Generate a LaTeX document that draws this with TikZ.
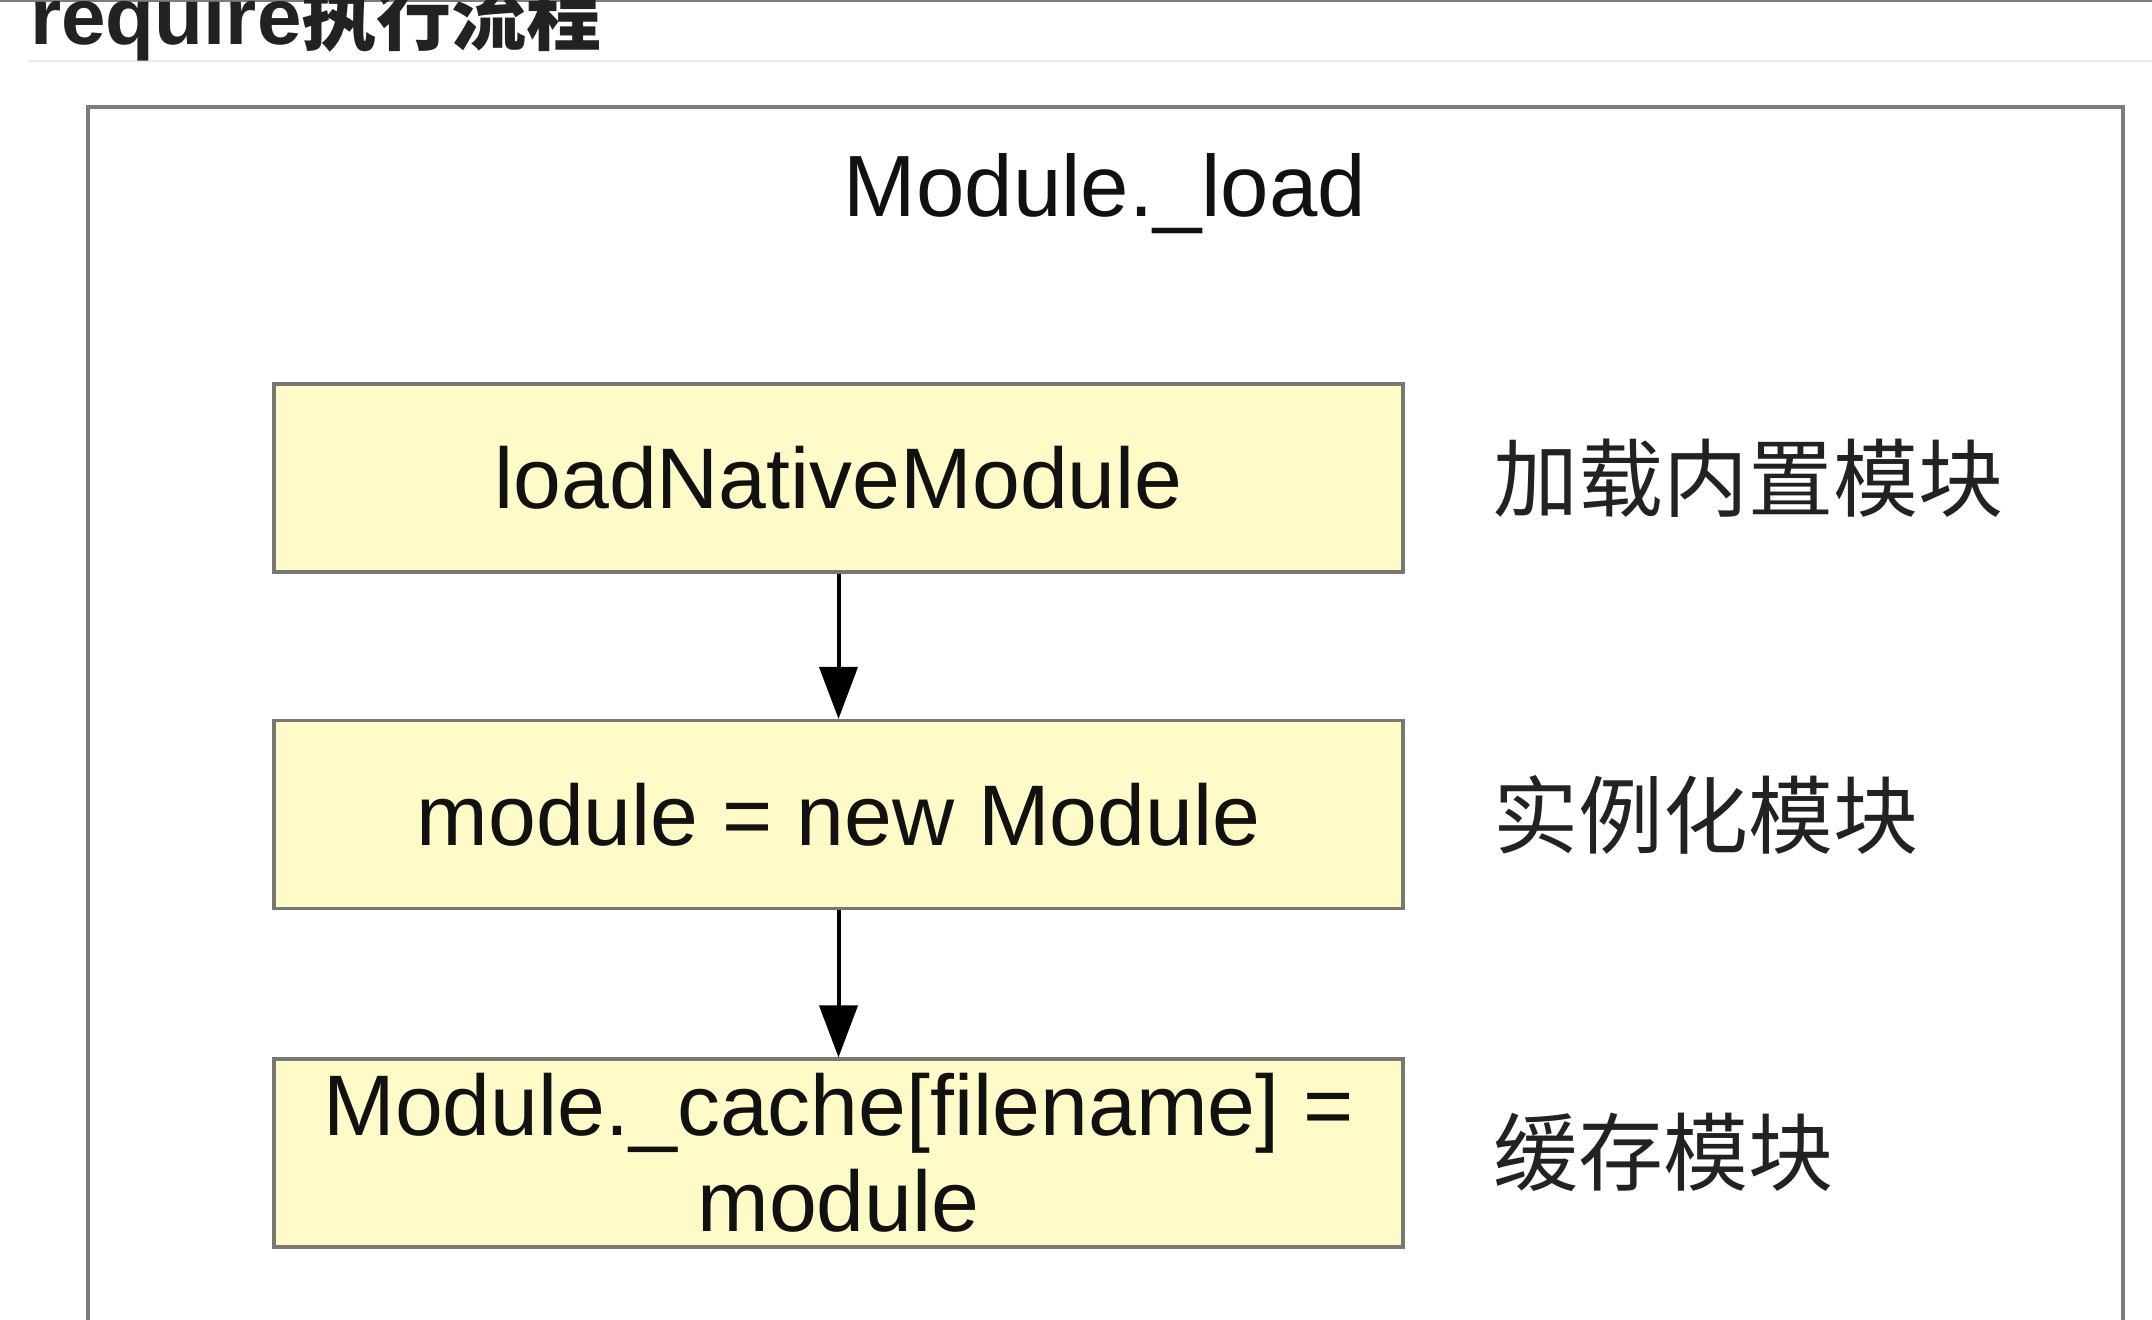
\documentclass[tikz,border=0pt]{standalone}
\usepackage{fontspec}
\setmainfont{Liberation Sans}
\newfontfamily\cjk{Noto Sans CJK SC}
\usetikzlibrary{arrows.meta}
\definecolor{boxfill}{RGB}{254,251,200}
\definecolor{boxline}{RGB}{120,120,115}
\definecolor{frameline}{RGB}{125,125,125}
\definecolor{sepline}{RGB}{235,235,235}
\definecolor{ink}{RGB}{17,17,17}
\definecolor{hdrink}{RGB}{34,34,34}
\tikzset{
  procbox/.style={draw=boxline, fill=boxfill, line width=1.6pt, minimum width=564.5pt,
    minimum height=94pt, inner sep=0pt, align=center, text=ink,
    font=\fontsize{43}{48}\selectfont},
  flowarrow/.style={draw=black, line width=2pt, -{Triangle[width=19pt,length=26pt]}},
  sidelabel/.style={anchor=west, inner sep=0pt, text=hdrink, font=\cjk\fontsize{42.5}{46}\selectfont},
}
\begin{document}
\begin{tikzpicture}[x=0.5pt,y=-0.5pt]
\useasboundingbox (0,0) rectangle (2152,1320);
\clip (0,0) rectangle (2152,1320);
\fill[white] (0,0) rectangle (2152,1320);
% top rule and header separator
\draw[line width=1pt, color=frameline] (0,1) -- (2152,1);
\draw[line width=1pt, color=sepline] (28,61) -- (2152,61);
\node[anchor=base west, inner sep=0pt, text=hdrink] (hdr) at (30,45)
  {\fontsize{40}{44}\selectfont\bfseries require{\cjk\fontsize{37.5}{40}\selectfont\bfseries 执行流程}};
% outer frame
\draw[line width=1.6pt, color=frameline] (88,1400) -- (88,107) -- (2123,107) -- (2123,1400);
% title
\node[inner sep=0pt, text=ink, font=\fontsize{43.5}{46}\selectfont, anchor=base] (title) at (1105,217) {Module.\_load};
% process boxes
\node[procbox] (b1) at (838.5,478) {loadNativeModule};
\node[procbox] (b2) at (838.5,814.5) {module = new Module};
\node[procbox] (b3) at (838.5,1153) {Module.\_cache[filename] =\\module};
% arrows
\draw[flowarrow] (b1.south) -- (b2.north);
\draw[flowarrow] (b2.south) -- (b3.north);
% side labels
\node[sidelabel] (l1) at (1493,478) {加载内置模块};
\node[sidelabel] (l2) at (1493,814.5) {实例化模块};
\node[sidelabel] (l3) at (1493,1152) {缓存模块};
\end{tikzpicture}
\end{document}
